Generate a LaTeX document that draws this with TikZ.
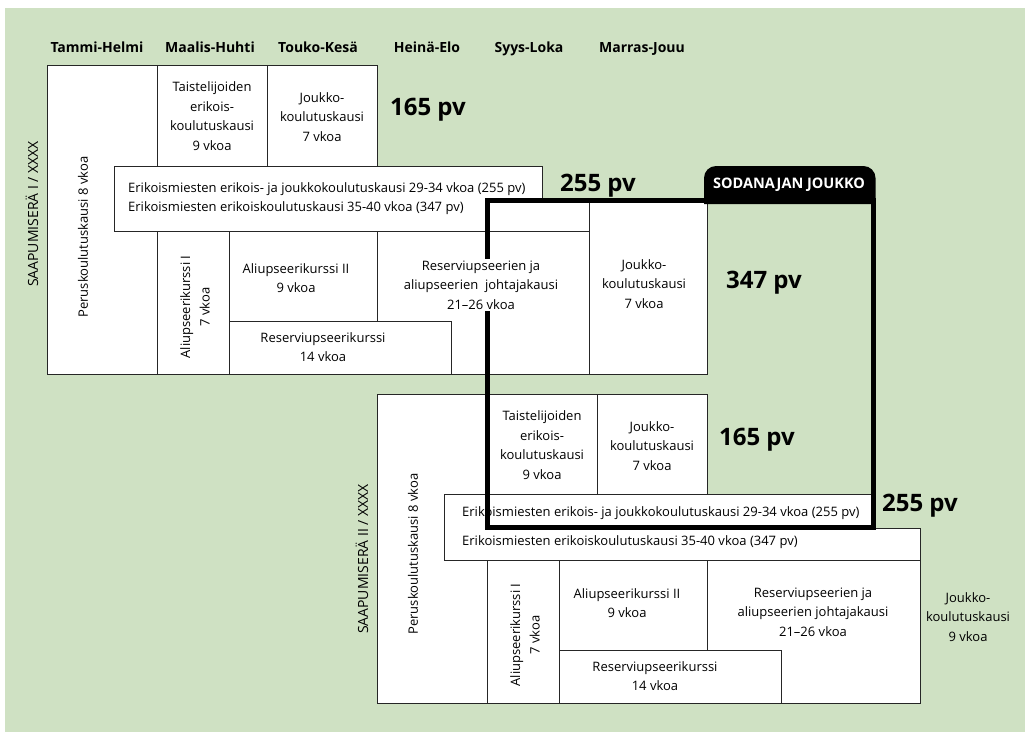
\documentclass[tikz,border=0pt]{standalone}
\usepackage{fontspec}
\setmainfont{Open Sans}
\definecolor{bg}{RGB}{207,225,195}
\tikzset{
  box/.style={draw=black!85, line width=0.7pt, fill=white},
  txt/.style={font=\fontsize{13}{19.5}\selectfont, align=center, inner sep=0pt},
  hdr/.style={font=\bfseries\fontsize{14}{16}\selectfont, inner sep=0pt, anchor=base},
  big/.style={font=\bfseries\fontsize{24}{28}\selectfont, inner sep=0pt},
  vert/.style={txt, rotate=90},
  vcap/.style={font=\fontsize{14}{17}\selectfont, inner sep=0pt, rotate=90},
  sodline/.style={line width=5pt, draw=black},
  tabtxt/.style={font=\bfseries\fontsize{14.5}{16}\selectfont, text=white, inner sep=0pt},
}
\begin{document}
\begin{tikzpicture}[x=1pt,y=-1pt]
\useasboundingbox (0,0) rectangle (1025,732);
\fill[white] (0,0) rectangle (1025,732);
\fill[bg] (5,8) rectangle (1025,732);
% headers
\node[hdr] (h1) at (97,52) {Tammi-Helmi};
\node[hdr] (h2) at (210,52) {Maalis-Huhti};
\node[hdr] (h3) at (318,52) {Touko-Kesä};
\node[hdr] (h4) at (427,52) {Heinä-Elo};
\node[hdr] (h5) at (529,52) {Syys-Loka};
\node[hdr] (h6) at (642,52) {Marras-Jouu};
% upper block
\draw[box] (47,65) rectangle (157,374);
\draw[box] (157,65) rectangle (267,166);
\draw[box] (267,65) rectangle (377,166);
\draw[box] (157,231) rectangle (229,374);
\draw[box] (229,231) rectangle (377,321);
\draw[box] (377,231) rectangle (589,374);
\draw[box] (229,321) rectangle (451,374);
\draw[box] (589,200) rectangle (707,374);
\draw[box] (114,166) -- (542,166) -- (542,200) -- (589,200) -- (589,231) -- (114,231) -- cycle;
% lower block
\draw[box] (377,394) rectangle (487,703);
\draw[box] (487,394) rectangle (597,494);
\draw[box] (597,394) rectangle (707,494);
\draw[box] (487,560) rectangle (559,703);
\draw[box] (559,560) rectangle (707,650);
\draw[box] (707,560) rectangle (920,703);
\draw[box] (559,650) rectangle (781,703);
\draw[box] (444,494) -- (872,494) -- (872,528) -- (920,528) -- (920,560) -- (444,560) -- cycle;
% sodanajan joukko
\draw[sodline] (487,200.5) rectangle (873,527);
\fill[black] (704,204) -- (704,178) arc[start angle=180, end angle=270, radius=12] -- (863.5,166) arc[start angle=270, end angle=360, radius=12] -- (875.5,204) -- cycle;
\node[tabtxt] (tab) at (789,185) {SODANAJAN JOUKKO};
% upper texts
\node[txt] (u-taist) at (212,116) {Taistelijoiden\\erikois-\\koulutuskausi\\9 vkoa};
\node[txt] (u-jouk) at (322,117) {Joukko-\\koulutuskausi\\7 vkoa};
\node[big] (u165) at (428,110) {165 pv};
\node[txt, anchor=west, align=left] (u-erik) at (128,198.5) {Erikoismiesten erikois- ja joukkokoulutuskausi 29-34 vkoa (255 pv)\\Erikoismiesten erikoiskoulutuskausi 35-40 vkoa (347 pv)};
\node[big] (u255) at (598,186) {255 pv};
\node[vcap] (u-saap) at (32,214) {SAAPUMISERÄ I / XXXX};
\node[vert] (u-perus) at (83,237) {Peruskoulutuskausi 8 vkoa};
\node[vert] (u-ali1) at (195,307) {Aliupseerikurssi I\\7 vkoa};
\node[txt] (u-ali2) at (296,278) {Aliupseerikurssi II\\9 vkoa};
\node[txt] (u-resk) at (323,347) {Reserviupseerikurssi\\14 vkoa};
\node[txt, fill=white, inner sep=2pt] (u-resj) at (481,285) {Reserviupseerien ja\\aliupseerien\ \ johtajakausi\\21–26 vkoa};
\node[txt] (u-jouk2) at (644,284) {Joukko-\\koulutuskausi\\7 vkoa};
\node[big] (u347) at (764,283) {347 pv};
% lower texts
\node[txt] (l-taist) at (542,445) {Taistelijoiden\\erikois-\\koulutuskausi\\9 vkoa};
\node[txt] (l-jouk) at (652,446) {Joukko-\\koulutuskausi\\7 vkoa};
\node[big] (l165) at (757,440) {165 pv};
\node[txt, anchor=west] (l-erik1) at (462,513) {Erikoismiesten erikois- ja joukkokoulutuskausi 29-34 vkoa (255 pv)};
\node[txt, anchor=west] (l-erik2) at (462,542) {Erikoismiesten erikoiskoulutuskausi 35-40 vkoa (347 pv)};
\node[big] (l255) at (920,506) {255 pv};
\node[vcap] (l-saap) at (362,559) {SAAPUMISERÄ II / XXXX};
\node[vert] (l-perus) at (413,554) {Peruskoulutuskausi 8 vkoa};
\node[vert] (l-ali1) at (525,635) {Aliupseerikurssi I\\7 vkoa};
\node[txt] (l-ali2) at (627,603) {Aliupseerikurssi II\\9 vkoa};
\node[txt] (l-resk) at (655,676) {Reserviupseerikurssi\\14 vkoa};
\node[txt] (l-resj) at (813,612) {Reserviupseerien ja\\aliupseerien johtajakausi\\21–26 vkoa};
\node[txt] (l-jouk9) at (968,617) {Joukko-\\koulutuskausi\\9 vkoa};
\end{tikzpicture}
\end{document}
